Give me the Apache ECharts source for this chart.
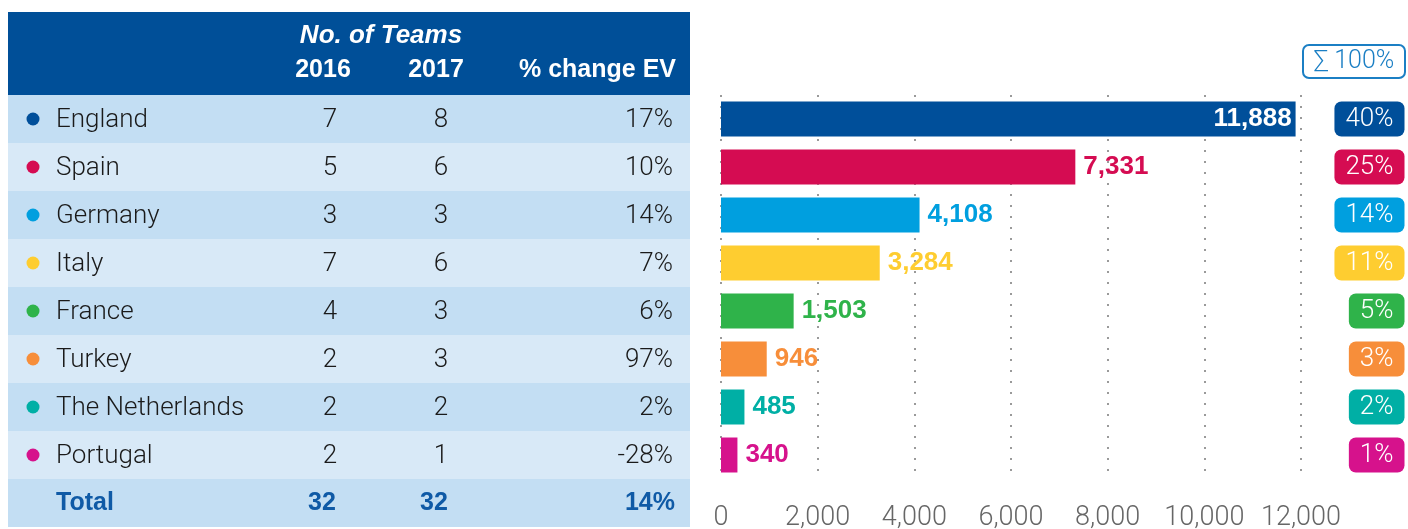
<!DOCTYPE html>
<html>
<head>
<meta charset="utf-8">
<script src="https://cdn.jsdelivr.net/npm/echarts@6/dist/echarts.min.js"></script>
<style>
  html, body { margin: 0; padding: 0; background: #fff; }
  #chart { width: 1408px; height: 529px; }
</style>
</head>
<body>
<div id="chart"></div>
<script>
var countries = ['England', 'Spain', 'Germany', 'Italy', 'France', 'Turkey', 'The Netherlands', 'Portugal'];
var teams2016 = [7, 5, 3, 7, 4, 2, 2, 2];
var teams2017 = [8, 6, 3, 6, 3, 3, 2, 1];
var changeEV = ['17%', '10%', '14%', '7%', '6%', '97%', '2%', '-28%'];
var totalRow = ['Total', 32, 32, '14%'];
var revenue = [11888, 7331, 4108, 3284, 1503, 946, 485, 340];
var share = ['40%', '25%', '14%', '11%', '5%', '3%', '2%', '1%'];
var colors = ['#004f9a', '#d50c52', '#009fdf', '#fecd30', '#2fb34a', '#f78e3a', '#00afa5', '#d6128c'];

var bold = '"Liberation Sans", Arial, sans-serif';
var light = 'Roboto, "Noto Sans", sans-serif';
var headBlue = '#004f98';
var totalBlue = '#0f5aa6';

function txt(x, y, text, font, fill, align) {
  return {
    type: 'text', x: x, y: y,
    style: {
      text: text, font: font, fill: fill,
      align: align, textAlign: align,
      verticalAlign: 'middle', textVerticalAlign: 'middle'
    }
  };
}

// one table row per category, placed by the table's category axis
function renderRow(params, api) {
  var i = params.dataIndex;
  var cs = params.coordSys;
  var cy = api.coord([0, i])[1];
  var h = api.size([0, 1])[1];
  var isTotal = i === countries.length;
  var kids = [{
    type: 'rect',
    shape: { x: cs.x, y: cy - h / 2, width: cs.width, height: h },
    style: { fill: i % 2 === 0 ? '#c3def3' : '#d8e9f7' }
  }];
  if (isTotal) {
    var bf = 'bold 25px ' + bold;
    kids.push(txt(cs.x + 48, cy, totalRow[0], bf, totalBlue, 'left'));
    kids.push(txt(cs.x + 314, cy, String(totalRow[1]), bf, totalBlue, 'center'));
    kids.push(txt(cs.x + 426, cy, String(totalRow[2]), bf, totalBlue, 'center'));
    kids.push(txt(cs.x + 667, cy, totalRow[3], bf, totalBlue, 'right'));
  } else {
    var lf = '300 26px ' + light;
    kids.push({ type: 'circle', shape: { cx: cs.x + 25, cy: cy, r: 6.5 }, style: { fill: colors[i] } });
    kids.push(txt(cs.x + 48, cy + 1, countries[i], lf, '#1a1a1a', 'left'));
    kids.push(txt(cs.x + 322, cy + 1, String(teams2016[i]), lf, '#1a1a1a', 'center'));
    kids.push(txt(cs.x + 433, cy + 1, String(teams2017[i]), lf, '#1a1a1a', 'center'));
    kids.push(txt(cs.x + 665, cy + 1, changeEV[i], lf, '#1a1a1a', 'right'));
  }
  return { type: 'group', children: kids };
}

var tableRows = countries.concat([totalRow[0]]);

var chart = echarts.init(document.getElementById('chart'));

chart.setOption({
  animation: false,
  grid: [
    { left: 721, right: 107, top: 95, bottom: 50, outerBoundsMode: 'none' },
    { left: 1300, right: 3, top: 95, bottom: 50, outerBoundsMode: 'none' },
    { left: 8, right: 718, top: 95, bottom: 2, outerBoundsMode: 'none' }
  ],
  xAxis: [
    {
      gridIndex: 0, type: 'value', min: 0, max: 12000, interval: 2000,
      axisLine: { show: false }, axisTick: { show: false },
      axisLabel: {
        margin: 26, color: '#666', fontSize: 27, fontWeight: 300, fontFamily: light,
        formatter: function (v) { return echarts.format.addCommas(v); }
      },
      splitLine: { show: true, lineStyle: { color: '#9a9a9a', width: 2, type: [2, 9] } }
    },
    { gridIndex: 1, type: 'value', min: 0, max: 1, show: false },
    { gridIndex: 2, type: 'value', min: 0, max: 1, show: false }
  ],
  yAxis: [
    { gridIndex: 0, type: 'category', data: countries, inverse: true, show: false },
    { gridIndex: 1, type: 'category', data: countries, inverse: true, show: false },
    { gridIndex: 2, type: 'category', data: tableRows, inverse: true, show: false }
  ],
  graphic: [
    { type: 'rect', shape: { x: 8, y: 12, width: 682, height: 83 }, style: { fill: headBlue } },
    txt(381, 36, 'No. of Teams', 'italic bold 26px ' + bold, '#fff', 'center'),
    txt(323, 70, '2016', 'bold 25px ' + bold, '#fff', 'center'),
    txt(436, 70, '2017', 'bold 25px ' + bold, '#fff', 'center'),
    txt(676, 70, '% change EV', 'bold 25px ' + bold, '#fff', 'right'),
    {
      type: 'rect', shape: { x: 1303, y: 45, width: 102, height: 33, r: 6 },
      style: { fill: '#fff', stroke: '#1b7fc4', lineWidth: 2 }
    },
    txt(1354, 62, '\u2211 100%', '300 25px ' + light, '#1b7fc4', 'center')
  ],
  series: [
    {
      type: 'bar',
      xAxisIndex: 0, yAxisIndex: 0,
      barWidth: 35,
      data: revenue.map(function (v, i) {
        var item = { value: v, itemStyle: { color: colors[i] }, label: { color: colors[i] } };
        if (i === 0) {
          item.label = { position: 'insideRight', color: '#fff', distance: 4 };
        }
        return item;
      }),
      label: {
        show: true, position: 'right', distance: 8,
        fontFamily: bold, fontWeight: 'bold', fontSize: 26,
        formatter: function (p) { return echarts.format.addCommas(p.value); }
      }
    },
    {
      type: 'scatter',
      xAxisIndex: 1, yAxisIndex: 1,
      symbolSize: 1,
      itemStyle: { color: 'transparent', opacity: 1 },
      data: share.map(function (s, i) {
        return {
          value: [1, i],
          label: { backgroundColor: colors[i] }
        };
      }),
      label: {
        show: true, position: 'left', distance: 0,
        formatter: function (p) { return share[p.dataIndex]; },
        color: '#fff', fontFamily: light, fontWeight: 300, fontSize: 26,
        borderRadius: 7, padding: [5, 11, 4, 11]
      }
    },
    {
      type: 'custom',
      xAxisIndex: 2, yAxisIndex: 2,
      renderItem: renderRow,
      data: tableRows.map(function (n, i) { return [0, i]; })
    }
  ]
});
</script>
</body>
</html>
